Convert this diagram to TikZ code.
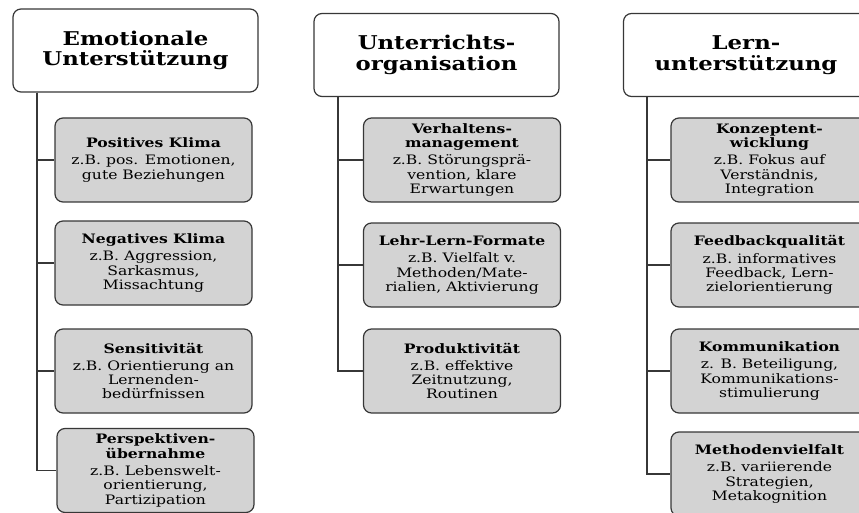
\documentclass[tikz,border=0pt]{standalone}
\usepackage{fontspec}
\setmainfont{DejaVu Serif}[FakeStretch=1.2]
\usetikzlibrary{positioning}
\definecolor{boxgray}{RGB}{211,211,211}
\definecolor{linegray}{RGB}{55,55,55}
\newcommand{\itemtitle}[1]{\textbf{#1}\\[3pt]}
\tikzset{
    common/.style={draw=linegray, line width=1.2pt, rounded corners=8pt, align=center, inner sep=1pt},
    head/.style={common, fill=white, minimum width=245pt, minimum height=83pt, font=\bfseries\fontsize{19}{20.5}\selectfont},
    item/.style={common, fill=boxgray, minimum width=197pt, minimum height=84pt, font=\fontsize{13}{14.3}\selectfont},
    stem/.style={draw=linegray, line width=1.2pt},
}

\begin{document}
\begin{tikzpicture}[x=1pt, y=-1pt]
    \useasboundingbox (0,0) rectangle (859,513);

    % Emotionale Unterstuetzung
    \node[head] (emo) at (135.5,50.5) {Emotionale\\Unterstützung};
    \node[item] (emo-pos) at (153.5,160) {\itemtitle{Positives Klima}z.B. pos. Emotionen,\\gute Beziehungen};
    \node[item] (emo-neg) at (153.5,263) {\itemtitle{Negatives Klima}z.B. Aggression,\\Sarkasmus,\\Missachtung};
    \node[item] (emo-sens) at (153.5,371) {\itemtitle{Sensitivität}z.B. Orientierung an\\Lernenden-\\bedürfnissen};
    \node[item] (emo-persp) at (155.5,470.5) {\textbf{Perspektiven-}\\\itemtitle{übernahme}z.B. Lebenswelt-\\orientierung,\\Partizipation};
    \coordinate (emo-stem) at (37,0 |- emo.south);
    \draw[stem] (emo-stem) |- (emo-pos.west);
    \draw[stem] (emo-stem) |- (emo-neg.west);
    \draw[stem] (emo-stem) |- (emo-sens.west);
    \draw[stem] (emo-stem) |- (emo-persp.west);

    % Unterrichtsorganisation
    \node[head] (org) at (436.5,55) {Unterrichts-\\organisation};
    \node[item] (org-verh) at (462,160) {\textbf{Verhaltens-}\\\itemtitle{management}z.B. Störungsprä-\\vention, klare\\Erwartungen};
    \node[item] (org-lehr) at (462,265) {\itemtitle{Lehr-Lern-Formate}z.B. Vielfalt v.\\Methoden/Mate-\\rialien, Aktivierung};
    \node[item] (org-prod) at (462,371) {\itemtitle{Produktivität}z.B. effektive\\Zeitnutzung,\\Routinen};
    \coordinate (org-stem) at (338,0 |- org.south);
    \draw[stem] (org-stem) |- (org-verh.west);
    \draw[stem] (org-stem) |- (org-lehr.west);
    \draw[stem] (org-stem) |- (org-prod.west);

    % Lernunterstuetzung
    \node[head] (lern) at (746,55) {Lern-\\unterstützung};
    \node[item] (lern-konz) at (769.5,160) {\textbf{Konzeptent-}\\\itemtitle{wicklung}z.B. Fokus auf\\Verständnis,\\Integration};
    \node[item] (lern-feed) at (769.5,265) {\itemtitle{Feedbackqualität}z.B. informatives\\Feedback, Lern-\\zielorientierung};
    \node[item] (lern-komm) at (769.5,371) {\itemtitle{Kommunikation}z. B. Beteiligung,\\Kommunikations-\\stimulierung};
    \node[item] (lern-meth) at (769.5,474) {\itemtitle{Methodenvielfalt}z.B. variierende\\Strategien,\\Metakognition};
    \coordinate (lern-stem) at (647,0 |- lern.south);
    \draw[stem] (lern-stem) |- (lern-konz.west);
    \draw[stem] (lern-stem) |- (lern-feed.west);
    \draw[stem] (lern-stem) |- (lern-komm.west);
    \draw[stem] (lern-stem) |- (lern-meth.west);
\end{tikzpicture}
\end{document}
